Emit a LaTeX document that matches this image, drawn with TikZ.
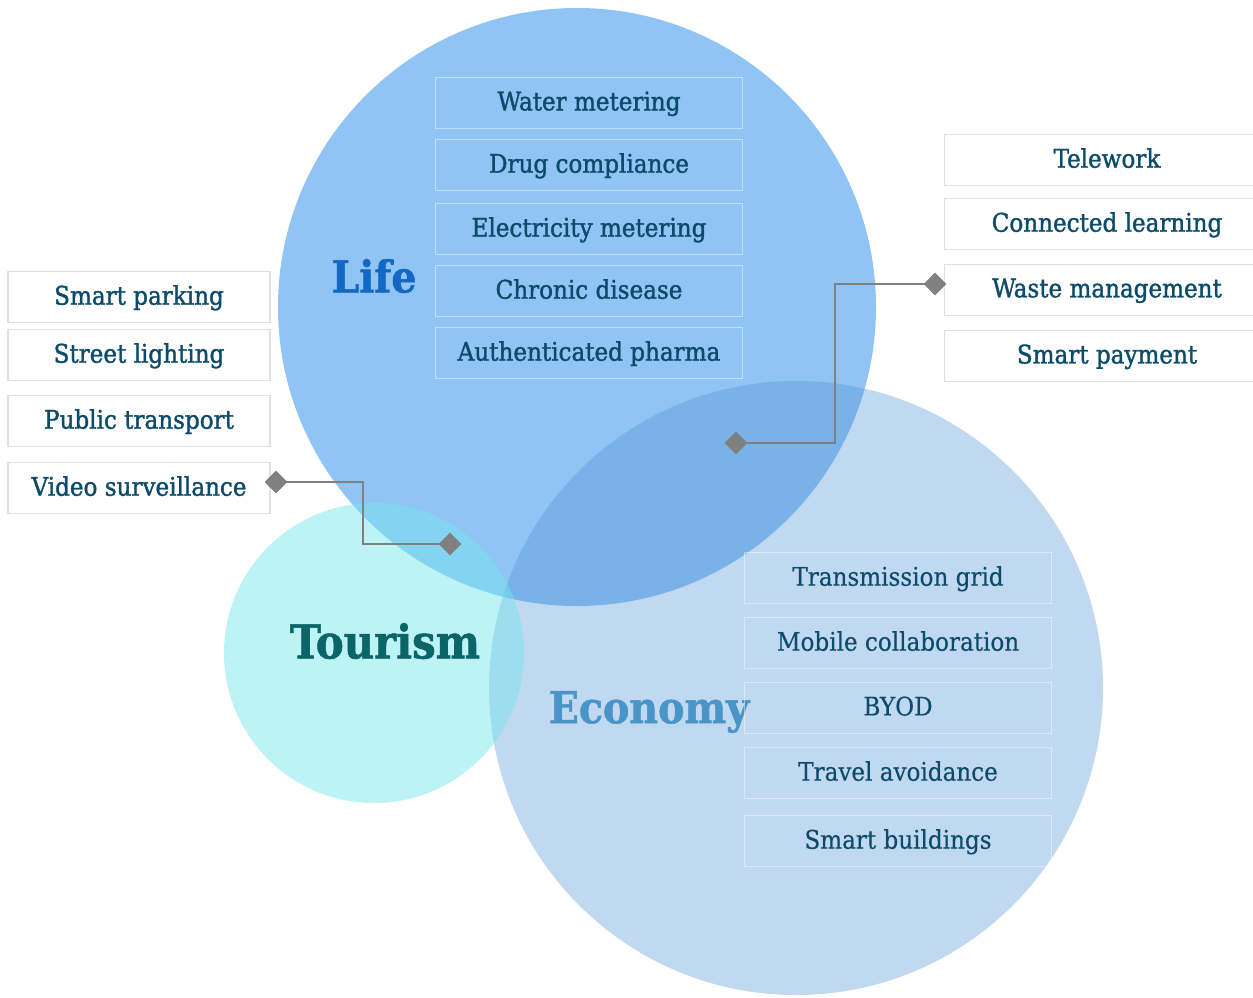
\documentclass[tikz,border=0pt]{standalone}
\usepackage{fontspec}
\setmainfont{DejaVu Serif Condensed}
\newfontfamily\itemfont[FakeBold=1.4]{DejaVu Serif Condensed}
\newfontfamily\titlefont[FakeBold=1.2]{DejaVu Serif Condensed Bold}
\usetikzlibrary{shapes.geometric}

\definecolor{lifeblue}{HTML}{90C4F4}
\definecolor{econblue}{HTML}{5093D6}
\definecolor{tourcyan}{HTML}{75E6EC}
\definecolor{itemtxt}{HTML}{0C4B69}
\definecolor{lifetxt}{HTML}{1268C4}
\definecolor{tourtxt}{HTML}{0A6468}
\definecolor{econtxt}{HTML}{4A95C8}

\begin{document}
\begin{tikzpicture}[x=0.02cm,y=-0.02cm,
    item/.style={draw=black!12,line width=0.6pt,minimum height=1.02cm,
        font=\itemfont\fontsize{14.6}{16}\selectfont,text=itemtxt,
        text depth=0.45ex},
    lifeitem/.style={item,draw=white!45!lifeblue,minimum width=6.14cm},
    econitem/.style={item,draw=white,draw opacity=0.45,minimum width=6.14cm},
    sideitem/.style={item,minimum width=5.24cm},
    title/.style={font=\titlefont\fontsize{25}{28}\selectfont},
    pin/.style={diamond,fill=black!50,inner sep=0pt,minimum size=0.46cm},
    link/.style={draw=black!50,line width=0.8pt}]
    \useasboundingbox (0,0) rectangle (1253,997);

    % the three circles
    \fill[lifeblue] (577,307) circle (299);
    \fill[econblue,fill opacity=0.36] (796,688) circle (307);
    \fill[tourcyan,fill opacity=0.47] (374,653) circle (150);

    \node[title,text=lifetxt] (life) at (374,276) {Life};
    \node[title,text=tourtxt,font=\titlefont\fontsize{26.5}{30}\selectfont] (tourism) at (385,641) {Tourism};
    \node[title,text=econtxt] (economy) at (649,712) {Economy};

    % life
    \node[lifeitem] (water) at (589,103) {Water metering};
    \node[lifeitem] (drug) at (589,165) {Drug compliance};
    \node[lifeitem] (elec) at (589,229) {Electricity metering};
    \node[lifeitem] (chronic) at (589,291) {Chronic disease};
    \node[lifeitem] (pharma) at (589,353) {Authenticated pharma};

    % economy
    \node[econitem] (grid) at (898,578) {Transmission grid};
    \node[econitem] (mobile) at (898,643) {Mobile collaboration};
    \node[econitem] (byod) at (898,708) {BYOD};
    \node[econitem] (travel) at (898,773) {Travel avoidance};
    \node[econitem] (build) at (898,841) {Smart buildings};

    % left column
    \node[sideitem] (parking) at (139,297) {Smart parking};
    \node[sideitem] (street) at (139,355) {Street lighting};
    \node[sideitem] (transport) at (139,421) {Public transport};
    \node[sideitem] (video) at (139,488) {Video surveillance};

    % right column
    \node[sideitem,minimum width=6.52cm] (telework) at (1107,160) {Telework};
    \node[sideitem,minimum width=6.52cm] (learning) at (1107,224) {Connected learning};
    \node[sideitem,minimum width=6.52cm] (waste) at (1107,290) {Waste management};
    \node[sideitem,minimum width=6.52cm] (payment) at (1107,356) {Smart payment};

    % connectors
    \node[pin] (p1) at (276,482) {};
    \node[pin] (p2) at (450,544) {};
    \node[pin] (p3) at (736,443) {};
    \node[pin] (p4) at (935,284) {};
    \draw[link] (p1.center) -- ++(87,0) |- (p2.center);
    \draw[link] (p3.center) -- ++(99,0) |- (p4.center);
\end{tikzpicture}
\end{document}
